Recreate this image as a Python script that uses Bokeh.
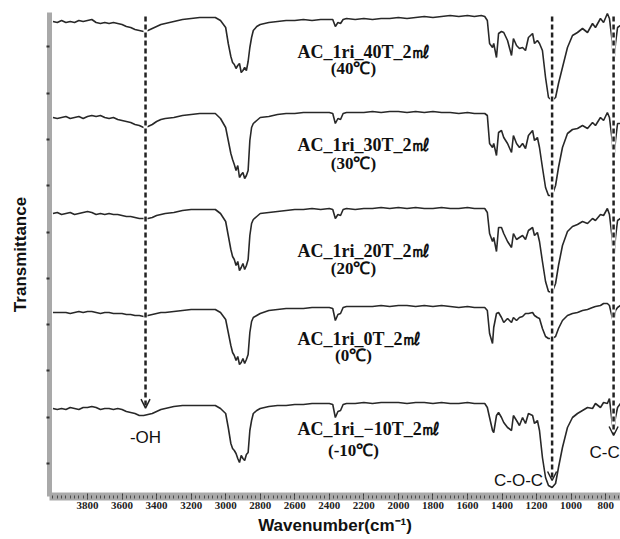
import numpy as np
from bokeh.plotting import figure
from bokeh.models import (Range1d, FixedTicker, SingleIntervalTicker, Label, Arrow, OpenHead,
                          CustomLabelingPolicy)
from bokeh.embed import file_html
from bokeh.resources import INLINE

# ---------------- data ----------------
wavenumber = [
    4000, 3975, 3950, 3925, 3900, 3875, 3850, 3825, 3800, 3775, 3750, 3725, 3700, 3675, 3650, 3625,
    3600, 3575, 3550, 3525, 3500, 3475, 3450, 3425, 3400, 3375, 3350, 3300, 3250, 3200, 3150, 3100,
    3060, 3030, 3000, 2985, 2970, 2960, 2950, 2940, 2930, 2920, 2910, 2900, 2890, 2880, 2870, 2860,
    2850, 2840, 2820, 2800,
    2750, 2700, 2650, 2600, 2550, 2500, 2450, 2400, 2380, 2365, 2350, 2335, 2320, 2300, 2250, 2200,
    2150, 2100, 2050, 2000, 1950, 1900, 1850, 1800, 1750, 1700, 1650, 1600, 1560, 1520,
    1500, 1485, 1472, 1455, 1448, 1432, 1420, 1403, 1390, 1368, 1345, 1334, 1316, 1299, 1281, 1264,
    1247, 1223, 1212, 1195, 1183, 1166, 1148, 1131, 1110, 1090, 1073, 1050, 1021, 992, 963, 934,
    905, 876, 859, 830, 812, 790, 778, 762, 754, 743, 731, 714, 700,
]

# absorption depth below each spectrum's own baseline (arbitrary units)
depth_40C = [
    0, 1, -1, 1, 0, 1, -1, 0, -1, -2, 1, 2, 1, 2, 1, 2, 3, 5, 6, 8, 9, 10, 9, 7, 5, 3, 2, 0, -2, -3, -4, -4,
    -4, -1, 6, 22, 35, 41, 43, 47, 44, 42, 51, 49, 46, 49, 40, 26, 16, 9, 5, 3,
    1, 0, -1, -1, -2, -1, -2, -2, -2, 5, 1, 2, -2, -3, -2, -3, -2, -3, -3, -4, -3, -4, -5, -4, -5, -6, -5, -6, -5, -6,
    -5, -1, 22, 26, 22, 36, 12, 10, 11, 19, 34, 17, 24, 27, 26, 29, 16, 12, 22, 19, 22, 29, 56, 76, 79, 76, 62, 46,
    26, 14, 11, 7, 11, 2, 6, -3, 1, -8, -3, 20, 44, 22, 6, 4, 2,
]
depth_30C = [
    0, 1, 0, -1, 1, 0, -1, 1, -1, -2, -1, -2, 0, 1, 0, 2, 3, 4, 5, 7, 8, 10, 9, 7, 4, 2, 1, 0, -2, -3, -4, -4,
    -4, 1, 10, 23, 36, 42, 47, 53, 48, 60, 57, 55, 61, 58, 53, 23, 10, 6, 3, 0,
    -1, -3, -4, -4, -5, -5, -5, -5, -4, 6, 1, 2, -4, -5, -5, -5, -6, -5, -6, -6, -5, -6, -5, -6, -5, -5, -4, -5, -4, -4,
    -4, -2, 26, 30, 26, 38, 15, 13, 20, 26, 35, 18, 26, 30, 26, 31, 18, 13, 23, 20, 30, 50, 70, 78, 78, 68, 50, 30,
    16, 12, 11, 8, 11, 5, 8, 0, 3, -5, 0, 23, 46, 23, 6, 6, 4,
]
depth_20C = [
    0, -1, 1, 0, -1, 1, 0, -1, -2, -1, 1, 0, 1, 0, 1, 1, 2, 3, 3, 4, 5, 5, 5, 4, 2, 1, 0, -1, -3, -4, -4, -4,
    -4, 0, 8, 22, 36, 43, 46, 52, 48, 57, 54, 50, 56, 52, 46, 22, 10, 6, 3, 0,
    -1, -2, -3, -4, -4, -5, -4, -5, -4, 5, 1, 2, -4, -5, -4, -5, -5, -6, -5, -6, -5, -6, -5, -5, -6, -5, -5, -6, -5, -5,
    -5, -1, 20, 28, 24, 38, 14, 14, 20, 28, 34, 20, 26, 24, 22, 26, 17, 14, 22, 19, 28, 48, 68, 78, 79, 70, 52, 32,
    18, 13, 11, 8, 10, 5, 7, 1, 2, -5, 1, 25, 49, 24, 7, 5, 4,
]
depth_0C = [
    0, 0, 0, 0, 1, 0, -1, 0, -1, -1, 0, 1, 0, 0, 1, 1, 1, 2, 2, 3, 3, 4, 3, 2, 1, 0, 0, -1, -2, -3, -3, -3,
    -3, 0, 7, 20, 33, 40, 43, 48, 44, 52, 50, 46, 51, 47, 42, 20, 9, 5, 3, 1,
    -2, -3, -4, -4, -4, -5, -5, -5, -4, 8, 2, 1, -5, -6, -6, -6, -6, -7, -6, -7, -7, -6, -7, -6, -7, -6, -5, -6, -5, -5,
    -5, -2, 21, 31, 15, 1, 0, 5, 10, 6, 10, 5, 8, 5, 4, 1, 1, 0, 3, 5, 6, 16, 24, 26, 26, 24, 16, 8,
    3, 1, 0, -2, -3, -5, -6, -7, -9, -9, -7, 5, 10, -2, -5, -7, -7,
]
depth_m10C = [
    0, 1, 0, 1, -1, 0, 1, -1, -1, -2, -1, 1, 0, 0, 1, 0, 1, 3, 4, 5, 7, 7, 6, 5, 3, 1, 0, -2, -3, -3, -3, -3,
    -3, 0, 5, 19, 35, 40, 42, 45, 50, 54, 47, 50, 52, 46, 44, 22, 12, 5, 2, 0,
    -2, -3, -3, -4, -4, -5, -5, -5, -4, 9, 3, 2, -4, -5, -5, -6, -5, -6, -6, -6, -5, -6, -6, -5, -6, -5, -5, -6, -5, -5,
    -5, -1, 9, 22, 24, 7, 4, 9, 14, 19, 22, 7, 12, 17, 9, 15, 5, 7, 15, 12, 22, 49, 69, 77, 79, 75, 59, 39,
    19, 9, 5, 2, -1, 0, -5, -1, -6, -5, -10, 15, 24, 9, -1, -5, -5,
]

# vertical stacking offsets of the five spectra (top to bottom)
stack_offsets = [442, 346, 250, 151, 55]

sample_names = ["AC_1ri_40T_2\u3396", "AC_1ri_30T_2\u3396", "AC_1ri_20T_2\u3396",
                "AC_1ri_0T_2\u3396", "AC_1ri_\u221210T_2\u3396"]
sample_temps = ["(40\u2103)", "(30\u2103)", "(20\u2103)", "(0\u2103)", "(-10\u2103)"]

band_names = ["-OH", "C-O-C", "C-C"]
band_wavenumbers = [3464, 1110, 754]

x_tick_values = [3800, 3600, 3400, 3200, 3000, 2800, 2600, 2400, 2200, 2000, 1800, 1600, 1400, 1200, 1000, 800]

# ---------------- figure ----------------
p = figure(width=620, height=539,
           x_range=Range1d(4020, 714), y_range=Range1d(-33, 451),
           output_backend="svg", toolbar_location=None,
           min_border_left=49, min_border_right=0, min_border_top=12, min_border_bottom=43)
p.outline_line_color = None
p.xgrid.visible = False
p.ygrid.visible = False

depths = [depth_40C, depth_30C, depth_20C, depth_0C, depth_m10C]
spectra = []
for off, d in zip(stack_offsets, depths):
    y = [off - v for v in d]
    spectra.append(y)
    p.line(wavenumber, y, line_color="#282828", line_width=1.6)

# x axis
xa = p.xaxis[0]
xa.ticker = FixedTicker(ticks=x_tick_values, minor_ticks=list(range(4000, 700, -25)))
xa.axis_line_color = "#a9a9a9"
xa.axis_line_width = 8
xa.major_tick_in = 3
xa.major_tick_out = 3
xa.major_tick_line_color = "#3a3a3a"
xa.minor_tick_in = 1
xa.minor_tick_out = 2
xa.minor_tick_line_color = "#4a4a4a"
xa.major_label_text_font = "Liberation Sans Narrow"
xa.major_label_text_font_size = "11px"
xa.major_label_text_font_style = "bold"
xa.major_label_text_color = "#222222"
xa.major_label_standoff = 2
xa.axis_label = "Wavenumber(cm\u207b\u00b9)"
xa.axis_label_text_font = "Liberation Sans"
xa.axis_label_text_font_size = "17px"
xa.axis_label_text_font_style = "bold"
xa.axis_label_text_color = "#111111"
xa.axis_label_standoff = 4

# y axis (ticks only, no tick labels)
ya = p.yaxis[0]
ya.ticker = SingleIntervalTicker(interval=46.3, num_minor_ticks=0)
ya.axis_line_color = "#a9a9a9"
ya.axis_line_width = 5
ya.major_tick_in = 0
ya.major_tick_out = 3
ya.major_tick_line_width = 2
ya.major_tick_line_color = "#333333"
ya.minor_tick_line_color = None
ya.major_label_text_font_size = "0px"
ya.major_label_standoff = 0
ya.major_label_policy = CustomLabelingPolicy(code="""
    for (const i of [...indices]) indices.unset(i)
    return indices
""")
ya.axis_label = "Transmittance"
ya.axis_label_text_font = "Liberation Sans"
ya.axis_label_text_font_size = "17px"
ya.axis_label_text_font_style = "bold"
ya.axis_label_text_color = "#111111"
ya.axis_label_standoff = 17

# dashed band arrows
bottom = spectra[-1]
tip_gaps = [7, 7, -3]
top_y = 447
for wn_b, gap in zip(band_wavenumbers, tip_gaps):
    tip = float(np.interp(wn_b, wavenumber[::-1], bottom[::-1])) + gap
    p.segment(x0=[wn_b], y0=[top_y], x1=[wn_b], y1=[tip], line_color="white", line_width=4)
    p.add_layout(Arrow(end=OpenHead(size=9, line_width=1.5, line_color="#222222"),
                       x_start=wn_b, y_start=top_y, x_end=wn_b, y_end=tip,
                       line_dash="5 3", line_width=2.5, line_color="#222222"))

band_label_pos = [(26, 0, "center"), (-17, -9, "right"), (11, -9, "center")]
for name, wn_b, (ly, xo, al) in zip(band_names, band_wavenumbers, band_label_pos):
    p.add_layout(Label(x=wn_b, y=ly, x_offset=xo, text=name, text_align=al,
                       text_baseline="middle", text_font="Liberation Sans",
                       text_font_size="17px", text_color="#111111"))

# sample labels
line1_y = [412, 319, 213, 125, 35]
line2_y = [395, 300, 195, 108, 13]
for name, temp, y1, y2 in zip(sample_names, sample_temps, line1_y, line2_y):
    p.add_layout(Label(x=2584, y=y1, text=name, text_align="left", text_baseline="middle",
                       text_font="Liberation Serif", text_font_size="18px",
                       text_font_style="bold", text_color="#111111"))
    p.add_layout(Label(x=2260, y=y2, text=temp, text_align="center", text_baseline="middle",
                       text_font="Liberation Serif", text_font_size="17px",
                       text_font_style="bold", text_color="#111111"))

open("out.html", "w").write(file_html(p, INLINE))
